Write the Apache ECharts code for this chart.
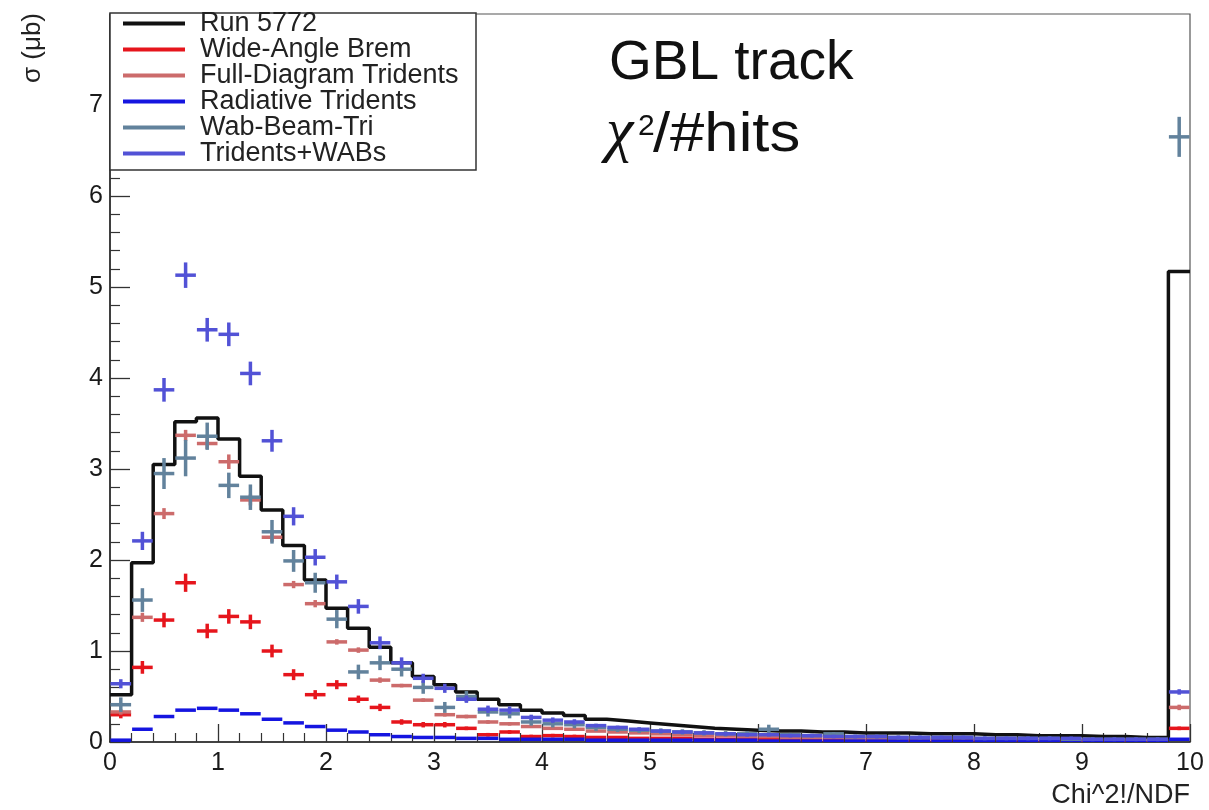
<!DOCTYPE html>
<html>
<head>
<meta charset="utf-8">
<script src="https://cdn.jsdelivr.net/npm/echarts@6/dist/echarts.min.js"></script>
<style>
html,body{margin:0;padding:0;background:#ffffff;}
#chart{width:1209px;height:810px;}
</style>
</head>
<body>
<div id="chart"></div>
<script>
// ---------------- data ----------------
const BIN_WIDTH = 0.2;
const X_MIN = 0, X_MAX = 10, Y_MIN = 0, Y_MAX = 8;
const xTickLabels = ['0','1','2','3','4','5','6','7','8','9','10'];
const seriesNames = ['Run 5772','Wide-Angle Brem','Full-Diagram Tridents','Radiative Tridents','Wab-Beam-Tri','Tridents+WABs'];

const run5772 = [0.52,1.97,3.05,3.52,3.56,3.33,2.92,2.55,2.16,1.78,
                 1.47,1.25,1.04,0.87,0.72,0.63,0.55,0.47,0.41,0.35,
                 0.32,0.29,0.25,0.23,0.21,0.19,0.17,0.15,0.14,0.13,
                 0.12,0.12,0.11,0.11,0.10,0.10,0.10,0.09,0.09,0.09,
                 0.08,0.08,0.07,0.07,0.07,0.06,0.06,0.05,0.05,5.17];

const wideAngleBrem = [0.30,0.82,1.34,1.75,1.22,1.38,1.32,1.00,0.74,0.52,
                       0.63,0.47,0.38,0.22,0.19,0.19,0.15,0.08,0.11,0.06,
                       0.07,0.06,0.05,0.05,0.04,0.04,0.04,0.03,0.03,0.03,
                       0.03,0.03,0.02,0.02,0.02,0.02,0.02,0.02,0.02,0.02,
                       0.02,0.01,0.01,0.01,0.01,0.01,0.01,0.01,0.01,0.15];
const errWideAngleBrem = [0.04,0.07,0.08,0.10,0.08,0.08,0.08,0.07,0.06,0.05,
                          0.05,0.04,0.04,0.03,0.03,0.03,0.02,0.02,0.02,0.02,
                          0.02,0.02,0.01,0.01,0.01,0.01,0.01,0.01,0.01,0.01,
                          0.01,0.01,0.01,0.01,0.01,0.01,0.01,0.01,0.01,0.01,
                          0.01,0.01,0.01,0.01,0.01,0.01,0.01,0.01,0.01,0.02];

const fullDiagram = [0.33,1.37,2.51,3.37,3.28,3.08,2.66,2.25,1.73,1.52,
                     1.10,1.01,0.68,0.62,0.46,0.30,0.28,0.22,0.20,0.17,
                     0.15,0.14,0.12,0.11,0.10,0.09,0.08,0.07,0.07,0.06,
                     0.06,0.05,0.05,0.05,0.04,0.04,0.04,0.04,0.03,0.03,
                     0.03,0.03,0.03,0.03,0.02,0.02,0.02,0.02,0.02,0.38];
const errFullDiagram = [0.03,0.05,0.06,0.06,0.06,0.08,0.06,0.05,0.04,0.04,
                        0.03,0.03,0.03,0.02,0.02,0.02,0.02,0.02,0.02,0.01,
                        0.01,0.01,0.01,0.01,0.01,0.01,0.01,0.01,0.01,0.01,
                        0.01,0.01,0.01,0.01,0.01,0.01,0.01,0.01,0.01,0.01,
                        0.01,0.01,0.01,0.01,0.01,0.01,0.01,0.01,0.01,0.03];

const radiative = [0.02,0.14,0.28,0.35,0.37,0.35,0.31,0.25,0.21,0.17,
                   0.13,0.11,0.08,0.06,0.05,0.05,0.04,0.04,0.03,0.03,
                   0.03,0.03,0.02,0.02,0.02,0.02,0.02,0.02,0.02,0.02,
                   0.01,0.01,0.01,0.01,0.01,0.01,0.01,0.01,0.01,0.01,
                   0.01,0.01,0.01,0.01,0.01,0.01,0.01,0.01,0.01,0.03];
const errRadiative = [0,0,0,0,0,0,0,0,0,0, 0,0,0,0,0,0,0,0,0,0,
                      0,0,0,0,0,0,0,0,0,0, 0,0,0,0,0,0,0,0,0,0,
                      0,0,0,0,0,0,0,0,0,0];

const wabBeamTri = [0.41,1.56,2.95,3.12,3.36,2.82,2.69,2.31,1.99,1.75,
                    1.35,0.77,0.87,0.80,0.60,0.38,0.50,0.33,0.31,0.22,
                    0.20,0.19,0.16,0.14,0.13,0.12,0.11,0.10,0.09,0.09,
                    0.14,0.08,0.07,0.09,0.06,0.06,0.05,0.05,0.05,0.05,
                    0.04,0.04,0.04,0.04,0.03,0.03,0.03,0.03,0.03,6.65];
const errWabBeamTri = [0.08,0.13,0.17,0.20,0.15,0.14,0.14,0.13,0.12,0.11,
                       0.10,0.08,0.08,0.08,0.07,0.06,0.06,0.05,0.05,0.04,
                       0.04,0.04,0.04,0.03,0.03,0.03,0.03,0.03,0.03,0.03,
                       0.05,0.02,0.02,0.02,0.02,0.02,0.02,0.02,0.02,0.02,
                       0.02,0.02,0.02,0.02,0.02,0.02,0.02,0.02,0.02,0.22];

const tridentsWabs = [0.64,2.21,3.87,5.13,4.53,4.48,4.05,3.31,2.48,2.03,
                      1.76,1.49,1.09,0.87,0.70,0.59,0.47,0.36,0.35,0.27,
                      0.24,0.22,0.18,0.16,0.14,0.12,0.11,0.10,0.09,0.08,
                      0.08,0.07,0.07,0.06,0.06,0.06,0.05,0.05,0.05,0.05,
                      0.04,0.04,0.04,0.04,0.04,0.03,0.03,0.03,0.03,0.55];
const errTridentsWabs = [0.05,0.10,0.13,0.14,0.13,0.13,0.13,0.12,0.10,0.09,
                         0.08,0.08,0.07,0.06,0.05,0.05,0.04,0.04,0.04,0.03,
                         0.03,0.03,0.02,0.02,0.02,0.02,0.02,0.02,0.02,0.02,
                         0.02,0.02,0.02,0.02,0.02,0.02,0.02,0.02,0.02,0.02,
                         0.02,0.02,0.02,0.02,0.02,0.02,0.02,0.02,0.02,0.03];

// ---------------- style ----------------
const FONT = "'Liberation Sans', Arial, Helvetica, sans-serif";
const COLORS = {
  run: '#111111',
  brem: '#e6151c',
  full: '#cc6b6b',
  rad: '#1515e0',
  wab: '#62829c',
  tw: '#5252d6'
};
const LEGEND_COLORS = [COLORS.run, COLORS.brem, COLORS.full, COLORS.rad, COLORS.wab, COLORS.tw];

// bin lower edges and centers
const binLow = run5772.map((_, i) => X_MIN + i * BIN_WIDTH);
const binCenter = binLow.map(v => v + BIN_WIDTH / 2);

// step histogram points (lower edges + final upper edge)
const runLine = run5772.map((v, i) => [binLow[i], v]);
runLine.push([X_MAX, run5772[run5772.length - 1]]);

function pointData(vals, errs) {
  return vals.map((v, i) => [binCenter[i], v, errs[i]]);
}

function crossRenderer(lw) {
  return function (params, api) {
    const x = api.value(0), y = api.value(1), e = api.value(2);
    if (!(y > 0)) return null;
    const color = api.visual('color');
    const l = api.coord([x - BIN_WIDTH / 2, y]);
    const r = api.coord([x + BIN_WIDTH / 2, y]);
    const children = [{
      type: 'line',
      shape: { x1: l[0] + 0.5, y1: l[1], x2: r[0] - 0.5, y2: r[1] },
      style: { stroke: color, lineWidth: lw }
    }];
    if (e > 0) {
      const t = api.coord([x, y + e]);
      const b = api.coord([x, Math.max(0, y - e)]);
      children.push({
        type: 'line',
        shape: { x1: t[0], y1: t[1], x2: b[0], y2: b[1] },
        style: { stroke: color, lineWidth: lw }
      });
    }
    return { type: 'group', children: children };
  };
}

function crossSeries(name, vals, errs, color, lw) {
  return {
    name: name,
    type: 'custom',
    renderItem: crossRenderer(lw),
    data: pointData(vals, errs),
    encode: { x: 0, y: 1 },
    itemStyle: { color: color },
    clip: true,
    z: 3
  };
}

const chart = echarts.init(document.getElementById('chart'), null, { renderer: 'canvas' });

const option = {
  animation: false,
  backgroundColor: '#ffffff',
  grid: {
    left: 110, right: 19, top: 14, bottom: 68,
    show: true, borderColor: '#555', borderWidth: 1.2, backgroundColor: 'transparent'
  },
  xAxis: {
    type: 'value', min: X_MIN, max: X_MAX, interval: 1,
    axisLine: { show: true, onZero: false, lineStyle: { color: '#222', width: 1.5 } },
    axisTick: { show: true, inside: true, length: 18, lineStyle: { color: '#333', width: 1.3 } },
    minorTick: { show: true, splitNumber: 5, length: 9, lineStyle: { color: '#333', width: 1.2 } },
    splitLine: { show: false },
    axisLabel: {
      fontSize: 25, color: '#1a1a1a', fontFamily: FONT, margin: 9,
      formatter: function (v) { return xTickLabels[Math.round(v)]; }
    }
  },
  yAxis: {
    type: 'value', min: Y_MIN, max: Y_MAX, interval: 1,
    axisLine: { show: true, onZero: false, lineStyle: { color: '#222', width: 1.5 } },
    axisTick: { show: true, inside: true, length: 20, lineStyle: { color: '#333', width: 1.3 } },
    minorTick: { show: true, splitNumber: 5, length: 10, lineStyle: { color: '#333', width: 1.2 } },
    splitLine: { show: false },
    axisLabel: { fontSize: 25, color: '#1a1a1a', fontFamily: FONT, margin: 7, showMaxLabel: false }
  },
  legend: {
    orient: 'vertical', left: 123, top: 10, padding: 0, itemGap: -1,
    itemWidth: 62, itemHeight: 4, icon: 'rect', selectedMode: false, z: 10,
    textStyle: { fontSize: 27, color: '#222', fontFamily: FONT, padding: [0, 0, 0, 10] },
    data: seriesNames.map((n, i) => ({ name: n, itemStyle: { color: LEGEND_COLORS[i] } }))
  },
  graphic: [
    { type: 'rect', z: 5, shape: { x: 110, y: 13, width: 366, height: 157 },
      style: { fill: '#ffffff', stroke: '#333', lineWidth: 1.5 } },
    { type: 'text', z: 6, x: 33, y: 13, rotation: Math.PI / 2,
      style: { text: 'σ (μb)', font: '26px ' + FONT, fill: '#222', textAlign: 'right', textVerticalAlign: 'middle' } },
    { type: 'text', z: 6, x: 1190, y: 796,
      style: { text: 'Chi^2!/NDF', font: '27px ' + FONT, fill: '#222', textAlign: 'right', textVerticalAlign: 'middle' } },
    { type: 'text', z: 6, x: 609, y: 91,
      style: { text: 'GBL track', font: '55px ' + FONT, fill: '#111', textAlign: 'left', textVerticalAlign: 'bottom' } },
    { type: 'text', z: 6, x: 606, y: 165,
      style: { text: 'χ', font: 'italic 62px "Liberation Serif", "DejaVu Serif", serif', fill: '#111', textAlign: 'left', textVerticalAlign: 'bottom' } },
    { type: 'text', z: 6, x: 638, y: 142,
      style: { text: '2', font: '30px ' + FONT, fill: '#111', textAlign: 'left', textVerticalAlign: 'bottom' } },
    { type: 'text', z: 6, x: 653, y: 163, scaleX: 1.12,
      style: { text: '/#hits', font: '55px ' + FONT, fill: '#111', textAlign: 'left', textVerticalAlign: 'bottom' } }
  ],
  series: [
    {
      name: 'Run 5772', type: 'line', step: 'end', data: runLine, symbol: 'none',
      lineStyle: { color: COLORS.run, width: 3.5 }, itemStyle: { color: COLORS.run },
      clip: true, z: 2
    },
    crossSeries('Wide-Angle Brem', wideAngleBrem, errWideAngleBrem, COLORS.brem, 3.5),
    crossSeries('Full-Diagram Tridents', fullDiagram, errFullDiagram, COLORS.full, 3.5),
    crossSeries('Radiative Tridents', radiative, errRadiative, COLORS.rad, 3.5),
    crossSeries('Wab-Beam-Tri', wabBeamTri, errWabBeamTri, COLORS.wab, 3.5),
    crossSeries('Tridents+WABs', tridentsWabs, errTridentsWabs, COLORS.tw, 3.5)
  ]
};
chart.setOption(option);
</script>
</body>
</html>
